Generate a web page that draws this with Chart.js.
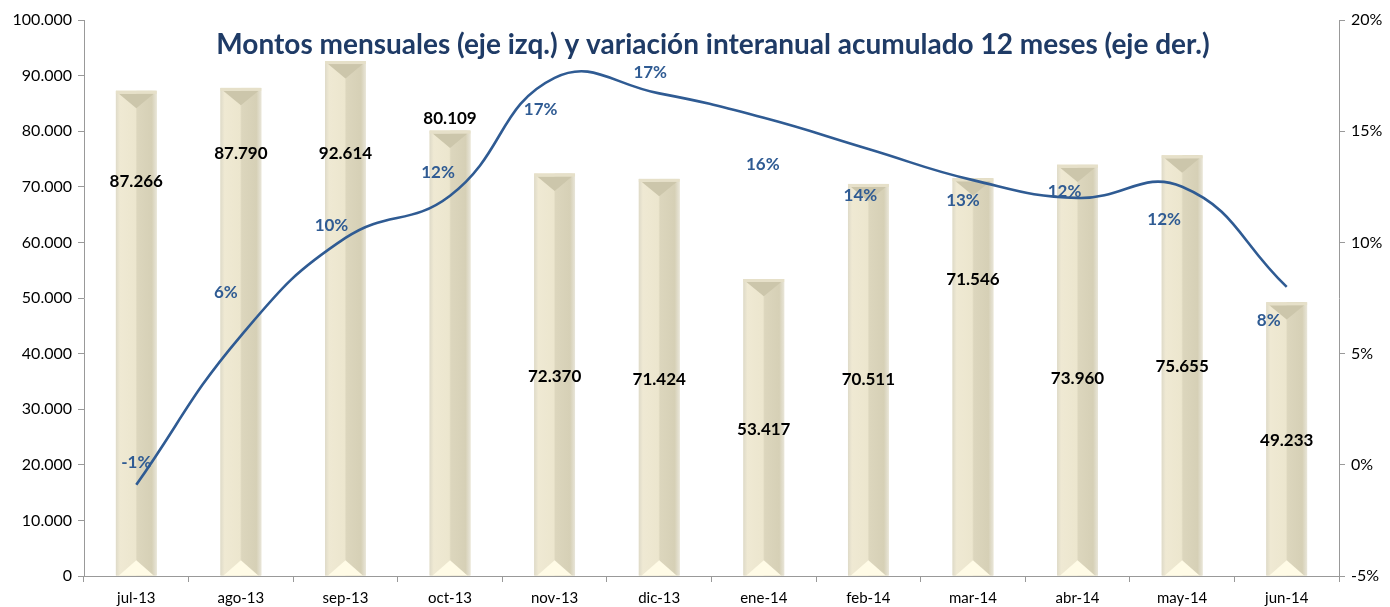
<!DOCTYPE html>
<html>
<head>
<meta charset="utf-8">
<script src="https://cdn.jsdelivr.net/npm/chart.js@4/dist/chart.umd.min.js"></script>
<style>
  html, body { margin: 0; padding: 0; background: #fff; }
  #wrap { width: 1390px; height: 607px; }
</style>
</head>
<body>
<div id="wrap"><canvas id="montosChart" width="1390" height="607"></canvas></div>
<script>
// Datos
const meses = ['jul-13', 'ago-13', 'sep-13', 'oct-13', 'nov-13', 'dic-13', 'ene-14', 'feb-14', 'mar-14', 'abr-14', 'may-14', 'jun-14'];
const montos = [87266, 87790, 92614, 80109, 72370, 71424, 53417, 70511, 71546, 73960, 75655, 49233];
const variacion = [-0.9, 5.8, 10.2, 12.1, 17.4, 16.7, 15.6, 14.2, 12.8, 12.0, 12.5, 8.0];
const variacionTxt = ['-1%', '6%', '10%', '12%', '17%', '17%', '16%', '14%', '13%', '12%', '12%', '8%'];
const ticksIzq = [0, 10000, 20000, 30000, 40000, 50000, 60000, 70000, 80000, 90000, 100000];
const ticksDer = [-5, 0, 5, 10, 15, 20];

const TITULO = 'Montos mensuales (eje izq.) y variación interanual acumulado 12 meses (eje der.)';
const AZUL = '#2f5b93';
const FONT = 'Lato, "Open Sans", sans-serif';

// where Excel left the labels (bar labels in left-axis units, % labels as px offsets)
const montoLabelY = [70900, 75900, 75900, 82200, 35800, 35400, 26300, 35300, 53400, 35600, 37600, 24300];
const pctOffset = [[0, -22], [-15, -43], [-14, -12], [-12, -23], [-14, 32], [-9, -21], [-1, 47], [-8, 47], [-10, 20], [-13, -6], [-18, 33], [-18, 34]];

const fmtMiles = v => v === 0 ? '0' : v.toLocaleString('de-DE');

// bevel look for the bars (bar dataset is index 1)
const bevelPlugin = {
    id: 'bevel',
    afterDatasetDraw(chart, args) {
        if (args.index !== 1) return;
        const ctx = chart.ctx;
        args.meta.data.forEach(bar => {
            const w = bar.width, l = bar.x - w / 2, r = bar.x + w / 2;
            const top = bar.y, bot = bar.base;
            const tri = w / 2 * 0.85;
            ctx.save();
            const g = ctx.createLinearGradient(l, 0, r, 0);
            g.addColorStop(0, '#dedac8');
            g.addColorStop(0.1, '#efe9d3');
            g.addColorStop(0.48, '#ece6ce');
            g.addColorStop(0.52, '#dcd6bd');
            g.addColorStop(0.88, '#d6d0b6');
            g.addColorStop(1, '#e8e5d8');
            ctx.fillStyle = g;
            ctx.fillRect(l, top, w, bot - top);
            // top inverted triangle
            ctx.fillStyle = '#ccc6ab';
            ctx.beginPath();
            ctx.moveTo(l + 3, top + 3);
            ctx.lineTo(r - 3, top + 3);
            ctx.lineTo(bar.x, top + tri);
            ctx.closePath();
            ctx.fill();
            ctx.fillStyle = '#e6e0c9';
            ctx.fillRect(l, top, w, 3);
            // bottom light triangle
            ctx.fillStyle = '#fffbe6';
            ctx.beginPath();
            ctx.moveTo(l + 3, bot);
            ctx.lineTo(r - 3, bot);
            ctx.lineTo(bar.x, bot - tri + 2);
            ctx.closePath();
            ctx.fill();
            ctx.restore();
        });
    }
};

const labelsPlugin = {
    id: 'etiquetas',
    afterDatasetsDraw(chart) {
        const ctx = chart.ctx;
        const yIzq = chart.scales.y;
        ctx.save();
        ctx.textAlign = 'center';
        ctx.textBaseline = 'middle';
        ctx.font = 'bold 17px ' + FONT;
        ctx.fillStyle = '#000';
        chart.getDatasetMeta(1).data.forEach((bar, i) => {
            ctx.fillText(fmtMiles(montos[i]), bar.x, yIzq.getPixelForValue(montoLabelY[i]));
        });
        ctx.fillStyle = AZUL;
        chart.getDatasetMeta(0).data.forEach((pt, i) => {
            ctx.fillText(variacionTxt[i], pt.x + pctOffset[i][0], pt.y + pctOffset[i][1]);
        });
        // title
        ctx.font = 'bold 28px ' + FONT;
        ctx.fillStyle = '#1f3b66';
        ctx.fillText(TITULO, 713, 45);
        ctx.restore();
    }
};

const ctx = document.getElementById('montosChart').getContext('2d');

new Chart(ctx, {
    data: {
        labels: meses,
        datasets: [{
            type: 'line',
            label: 'Variación interanual',
            data: variacion,
            yAxisID: 'y2',
            borderColor: AZUL,
            borderWidth: 2.6,
            pointRadius: 0,
            tension: 0.45,
            order: 0
        }, {
            type: 'bar',
            label: 'Montos mensuales',
            data: montos,
            yAxisID: 'y',
            backgroundColor: '#e8e2c9',
            borderWidth: 0,
            barPercentage: 0.39,
            categoryPercentage: 1,
            order: 1
        }]
    },
    plugins: [bevelPlugin, labelsPlugin],
    options: {
        responsive: false,
        animation: false,
        layout: { padding: { top: 20, right: 0, left: 0, bottom: 0 } },
        plugins: { legend: { display: false }, tooltip: { enabled: false } },
        scales: {
            x: {
                grid: { display: true, drawOnChartArea: false, offset: true, color: '#999', tickLength: 6 },
                border: { color: '#999' },
                ticks: { color: '#000', font: { family: FONT, size: 15 }, padding: 7 },
                afterFit: s => { s.height = 31; }
            },
            y: {
                position: 'left',
                min: 0, max: 100000,
                afterBuildTicks: s => { s.ticks = ticksIzq.map(v => ({ value: v })); },
                grid: { drawOnChartArea: false, color: '#999', tickLength: 6 },
                border: { color: '#999' },
                ticks: { color: '#000', font: { family: FONT, size: 16 }, callback: v => fmtMiles(v), padding: 6 },
                afterFit: s => { s.width = 84; }
            },
            y2: {
                position: 'right',
                min: -5, max: 20,
                afterBuildTicks: s => { s.ticks = ticksDer.map(v => ({ value: v })); },
                grid: { drawOnChartArea: false, color: '#999', tickLength: 6 },
                border: { color: '#999' },
                ticks: { color: '#000', font: { family: FONT, size: 16 }, callback: v => v + '%', padding: 6 },
                afterFit: s => { s.width = 51; }
            }
        }
    }
});
</script>
</body>
</html>
